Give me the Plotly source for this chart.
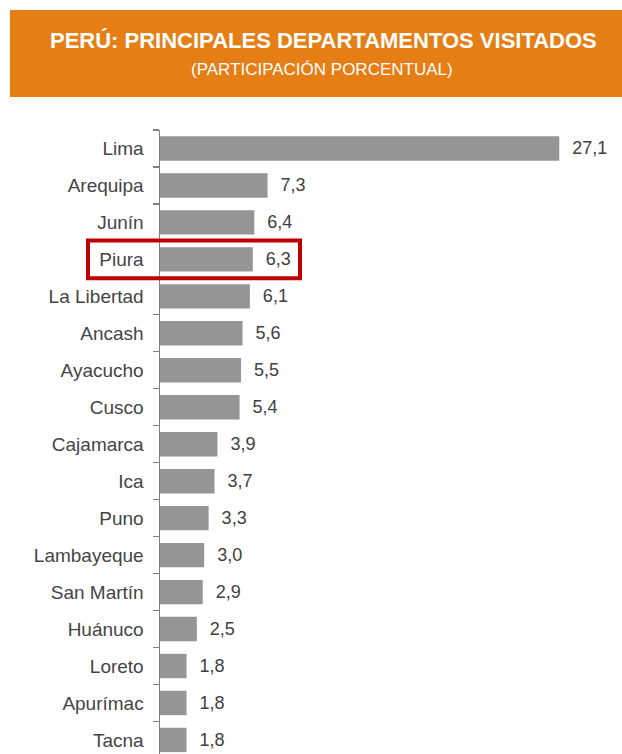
import plotly.graph_objects as go

departamentos = ["Lima", "Arequipa", "Junín", "Piura", "La Libertad", "Ancash", "Ayacucho",
                 "Cusco", "Cajamarca", "Ica", "Puno", "Lambayeque", "San Martín", "Huánuco",
                 "Loreto", "Apurímac", "Tacna"]
participacion = [27.1, 7.3, 6.4, 6.3, 6.1, 5.6, 5.5, 5.4, 3.9, 3.7, 3.3, 3.0, 2.9, 2.5, 1.8, 1.8, 1.8]
destacado = "Piura"

titulo = "PERÚ: PRINCIPALES DEPARTAMENTOS VISITADOS"
subtitulo = "(PARTICIPACIÓN PORCENTUAL)"

FONT = "Liberation Sans, Arial, sans-serif"
W, H = 622, 754
ML, MR, MT, MB = 160, 20, 130, 0
PW, PH = W - ML - MR, H - MT - MB
Y_BOTTOM = 16.38  # the chart is cropped through the last category


def px_x(x):
    return (x - ML) / PW


def px_y(y):
    return (H - MB - y) / PH


etiquetas = ["  " + f"{v:.1f}".replace(".", ",") for v in participacion]

fig = go.Figure(go.Bar(
    x=participacion, y=departamentos, orientation="h",
    marker=dict(color="#959595", line=dict(width=0)),
    width=0.66,
    text=etiquetas, textposition="outside", cliponaxis=False,
    textfont=dict(size=18, color="#404040", family=FONT),
    hoverinfo="skip",
))

idx = departamentos.index(destacado)

fig.update_layout(
    width=W, height=H,
    margin=dict(l=ML, r=MR, t=MT, b=MB),
    paper_bgcolor="white", plot_bgcolor="white",
    showlegend=False,
    font=dict(family=FONT, color="#404040"),
    xaxis=dict(range=[0, 30], visible=False, showgrid=False, zeroline=False),
    yaxis=dict(type="category", range=[Y_BOTTOM, -0.5], showgrid=False, zeroline=False,
               showline=True, linecolor="#808080", linewidth=1.5,
               ticks="outside", tickson="boundaries", ticklen=6, tickcolor="#808080",
               tickwidth=1.2, ticklabelstandoff=11,
               tickfont=dict(size=19, color="#454545")),
    shapes=[
        dict(type="rect", xref="paper", yref="paper",
             x0=px_x(10), x1=px_x(640), y0=px_y(97), y1=px_y(10),
             fillcolor="#E57E14", line=dict(width=0), layer="below"),
        dict(type="rect", xref="paper", yref="y",
             x0=px_x(88), x1=px_x(300), y0=idx - 0.51, y1=idx + 0.51,
             line=dict(color="#C00000", width=4), fillcolor="rgba(0,0,0,0)"),
    ],
    annotations=[
        dict(text=f"<b>{titulo}</b>", xref="paper", yref="paper",
             x=px_x(323), y=px_y(40), showarrow=False, xanchor="center", yanchor="middle",
             font=dict(size=22, color="white", family=FONT)),
        dict(text=subtitulo, xref="paper", yref="paper",
             x=px_x(322), y=px_y(70), showarrow=False, xanchor="center", yanchor="middle",
             font=dict(size=17, color="white", family=FONT)),
    ],
)

fig.write_html("out.html", config={"displayModeBar": False, "staticPlot": True},
               post_script="document.body.style.margin='0';")
